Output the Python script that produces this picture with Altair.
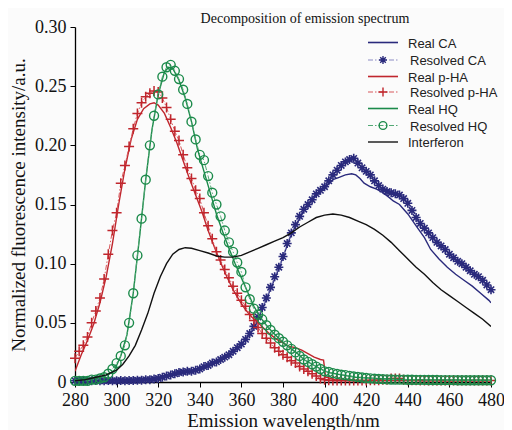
import altair as alt
import pandas as pd

# ---------------- data ----------------
wl_res = list(range(280, 482, 2))

res_pha = [0.020, 0.026, 0.031, 0.038, 0.050, 0.060, 0.071, 0.087, 0.108, 0.128,
           0.143, 0.168, 0.183, 0.199, 0.214, 0.227, 0.236, 0.241, 0.244, 0.246,
           0.245, 0.240, 0.232, 0.222, 0.212, 0.204, 0.192, 0.181, 0.172, 0.162,
           0.155, 0.143, 0.132, 0.121, 0.110, 0.103, 0.095, 0.088, 0.081, 0.075,
           0.069, 0.064, 0.057, 0.052, 0.046, 0.041, 0.037, 0.033, 0.029, 0.026,
           0.023, 0.021, 0.018, 0.016, 0.013, 0.011, 0.009, 0.007, 0.005, 0.003,
           0.002, 0.0015, 0.0012, 0.0012, 0.0012, 0.0012, 0.0012, 0.0012, 0.0012, 0.0012,
           0.0012, 0.0015, 0.0015, 0.0015, 0.002, 0.002, 0.003, 0.003, 0.003, 0.002,
           0.0015, 0.0015, 0.0015, 0.0012, 0.0012, 0.0012, 0.0012, 0.0012, 0.0012, 0.0012,
           0.0012, 0.0012, 0.0012, 0.0012, 0.0012, 0.0012, 0.0012, 0.0012, 0.0012, 0.0012,
           0.0012]

res_hq = [0.001, 0.001, 0.001, 0.001, 0.002, 0.002, 0.003, 0.004, 0.007, 0.011,
          0.016, 0.022, 0.031, 0.050, 0.075, 0.107, 0.138, 0.171, 0.200, 0.225,
          0.243, 0.258, 0.266, 0.268, 0.263, 0.256, 0.247, 0.235, 0.220, 0.205,
          0.192, 0.1875, 0.174, 0.160, 0.150, 0.140, 0.128, 0.118, 0.110, 0.101,
          0.093, 0.080, 0.070, 0.062, 0.057, 0.053, 0.048, 0.044, 0.040, 0.037,
          0.034, 0.031, 0.028, 0.025, 0.022, 0.019, 0.017, 0.015, 0.013, 0.011,
          0.009, 0.0085, 0.0075, 0.0068, 0.0062, 0.0058, 0.0052, 0.0047, 0.0042, 0.0038,
          0.0034, 0.0031, 0.0028, 0.0026, 0.0024, 0.0022, 0.0021, 0.002, 0.002, 0.002,
          0.0019, 0.0019, 0.0018, 0.0018, 0.0018, 0.0017, 0.0017, 0.0017, 0.0016, 0.0016,
          0.0016, 0.0016, 0.0015, 0.0015, 0.0015, 0.0015, 0.0015, 0.0015, 0.0015, 0.0015,
          0.0015]

res_ca = [0.001, 0.001, 0.0012, 0.001, 0.001, 0.0012, 0.001, 0.001, 0.0012, 0.001,
          0.001, 0.0012, 0.001, 0.0012, 0.0012, 0.0015, 0.0015, 0.002, 0.002, 0.0025,
          0.003, 0.004, 0.005, 0.006, 0.007, 0.008, 0.0085, 0.009, 0.009, 0.010,
          0.011, 0.013, 0.014, 0.016, 0.017, 0.019, 0.021, 0.023, 0.026, 0.029,
          0.032, 0.036, 0.041, 0.047, 0.055, 0.063, 0.071, 0.080, 0.089, 0.097,
          0.106, 0.117, 0.126, 0.133, 0.140, 0.146, 0.150, 0.154, 0.159, 0.162,
          0.165, 0.170, 0.175, 0.179, 0.183, 0.186, 0.188, 0.189, 0.185, 0.181,
          0.178, 0.175, 0.170, 0.166, 0.163, 0.161, 0.160, 0.159, 0.158, 0.155,
          0.151, 0.145, 0.139, 0.134, 0.130, 0.126, 0.122, 0.118, 0.115, 0.112,
          0.108, 0.105, 0.102, 0.100, 0.097, 0.094, 0.091, 0.089, 0.086, 0.082,
          0.078]

wl_real_pha = [280, 283, 286, 289, 292, 295, 298, 301, 304, 307, 310, 313, 316, 318, 320,
               323, 326, 329, 332, 335, 338, 341, 344, 347, 350, 353, 356, 359, 362, 365,
               368, 371, 374, 377, 380, 383, 386, 389, 392, 395, 398, 399.5, 400.5, 405,
               420, 440, 460, 480]
real_pha = [0.009, 0.023, 0.035, 0.049, 0.067, 0.089, 0.117, 0.150, 0.180, 0.205, 0.222,
            0.231, 0.235, 0.236, 0.234, 0.227, 0.215, 0.202, 0.187, 0.172, 0.158, 0.144,
            0.128, 0.114, 0.101, 0.089, 0.078, 0.069, 0.061, 0.055, 0.050, 0.045, 0.040,
            0.036, 0.033, 0.030, 0.029, 0.027, 0.024, 0.021, 0.019, 0.0185, 0.004, 0.002,
            0.001, 0.0015, 0.001, 0.001]

wl_real_hq = [280, 286, 292, 296, 299, 302, 305, 308, 311, 314, 317, 320, 323, 325, 327,
              330, 333, 336, 339, 342, 345, 348, 351, 354, 357, 360, 363, 366, 369, 372,
              375, 378, 381, 384, 387, 390, 394, 398, 402, 408, 415, 425, 440, 480]
real_hq = [0.002, 0.003, 0.004, 0.006, 0.010, 0.022, 0.040, 0.075, 0.122, 0.171, 0.213,
           0.243, 0.262, 0.266, 0.265, 0.255, 0.240, 0.220, 0.196, 0.178, 0.160, 0.142,
           0.127, 0.113, 0.100, 0.088, 0.076, 0.064, 0.055, 0.048, 0.042, 0.037, 0.032,
           0.028, 0.024, 0.019, 0.015, 0.011, 0.008, 0.006, 0.004, 0.003, 0.002, 0.0015]

wl_real_ca = [280, 300, 318, 324, 330, 340, 350, 360, 366, 372, 378, 384, 390, 396, 400,
              404, 407, 410, 413, 415, 417, 419, 422, 425, 428, 431, 433, 436, 440, 444,
              448, 451, 455, 459, 463, 467, 471, 475, 479, 480]
real_ca = [0.001, 0.001, 0.002, 0.004, 0.007, 0.010, 0.018, 0.031, 0.046, 0.070, 0.096,
           0.125, 0.145, 0.158, 0.164, 0.171, 0.173, 0.175, 0.176, 0.175, 0.172, 0.168,
           0.165, 0.163, 0.160, 0.156, 0.153, 0.150, 0.142, 0.132, 0.122, 0.112, 0.104,
           0.097, 0.091, 0.086, 0.081, 0.075, 0.069, 0.067]

wl_interf = [280, 285, 290, 295, 300, 303, 306, 309, 312, 315, 318, 321, 324, 327, 330,
             333, 336, 340, 344, 348, 352, 356, 360, 364, 368, 372, 376, 380, 384, 388,
             392, 396, 400, 404, 408, 412, 416, 420, 424, 428, 432, 436, 440, 444, 448,
             452, 456, 460, 464, 468, 472, 476, 480]
interf = [0.001, 0.002, 0.004, 0.006, 0.010, 0.015, 0.022, 0.031, 0.044, 0.058, 0.075,
          0.089, 0.100, 0.108, 0.112, 0.1135, 0.113, 0.111, 0.109, 0.1065, 0.1055, 0.1055,
          0.107, 0.110, 0.113, 0.116, 0.119, 0.122, 0.126, 0.131, 0.135, 0.139, 0.141,
          0.142, 0.141, 0.139, 0.136, 0.133, 0.129, 0.124, 0.118, 0.111, 0.104, 0.097,
          0.091, 0.084, 0.078, 0.073, 0.068, 0.063, 0.058, 0.053, 0.047]

legend_labels = ["Real CA", "Resolved CA", "Real p-HA", "Resolved p-HA",
                 "Real HQ", "Resolved HQ", "Interferon"]

# ---------------- styles ----------------
NAVY = "#2a2a7c"
NAVY_L = "#8c8cc4"
RED = "#c0262d"
RED_L = "#d8585c"
GREEN = "#1b8a4a"
GREEN_L = "#52a874"
BLACK = "#111111"
STAR = "M-1,0L1,0M0,-1L0,1M-0.7,-0.7L0.7,0.7M-0.7,0.7L0.7,-0.7"
PLUS = "M-1,0L1,0M0,-1L0,1"
DASHDOT = [5, 2, 1.5, 2]
SERIF = "Liberation Serif"

x_enc = alt.X("wl:Q", scale=alt.Scale(domain=[280, 480], nice=False, zero=False),
              axis=alt.Axis(values=list(range(280, 481, 20)), title="Emission wavelength/nm",
                            grid=False, tickSize=5, labelPadding=4, titlePadding=2,
                            labelFlush=False, labelOverlap=False,
                            domainColor="black", tickColor="black", domainWidth=1.3,
                            labelFont=SERIF, labelFontSize=18, labelColor="#111",
                            titleFont=SERIF, titleFontSize=19, titleFontWeight="normal",
                            titleColor="#111"))
y_enc = alt.Y("val:Q", scale=alt.Scale(domain=[0, 0.30], nice=False),
              axis=alt.Axis(values=[0, 0.05, 0.10, 0.15, 0.20, 0.25, 0.30],
                            labelExpr="datum.value == 0 ? '0' : format(datum.value, '.2f')",
                            title="Normalized fluorescence intensity/a.u.",
                            grid=False, tickSize=5, labelPadding=4, titlePadding=6,
                            labelFlush=False, labelOverlap=False,
                            domainColor="black", tickColor="black", domainWidth=1.3,
                            labelFont=SERIF, labelFontSize=18, labelColor="#111",
                            titleFont=SERIF, titleFontSize=19, titleFontWeight="normal",
                            titleColor="#111"))


def df(x, y):
    return pd.DataFrame({"wl": x, "val": y})


def line(x, y, color, width=1.4, dash=None):
    kw = dict(color=color, strokeWidth=width, clip=True)
    if dash is not None:
        kw["strokeDash"] = dash
    return alt.Chart(df(x, y)).mark_line(**kw).encode(x=x_enc, y=y_enc)


def points(x, y, color, shape, size, width=1.4):
    return alt.Chart(df(x, y)).mark_point(shape=shape, size=size, filled=False,
                                          color=color, strokeWidth=width,
                                          opacity=1).encode(x=x_enc, y=y_enc)


layers = [
    line(wl_real_ca, real_ca, NAVY),
    line(wl_res, res_ca, NAVY_L, 1, DASHDOT),
    points(wl_res, res_ca, NAVY, STAR, 81, 1.6),
    line(wl_real_pha, real_pha, RED),
    line(wl_res, res_pha, RED_L, 1, DASHDOT),
    points(wl_res, res_pha, RED, PLUS, 100, 1.5),
    line(wl_real_hq, real_hq, GREEN),
    line(wl_res, res_hq, GREEN_L, 1, DASHDOT),
    points(wl_res, res_hq, GREEN, "circle", 80, 1.4),
    line(wl_interf, interf, BLACK, 1.4),
]

# ---------------- legend (manual) ----------------
dummy = pd.DataFrame({"d": [0]})
legend_rows = [15.5, 33, 49.5, 65, 81.5, 98.5, 115]
legend_style = [
    (NAVY, None, None, None, None),
    (NAVY_L, DASHDOT, NAVY, STAR, 64),
    (RED, None, None, None, None),
    (RED_L, DASHDOT, RED, PLUS, 81),
    (GREEN, None, None, None, None),
    (GREEN_L, DASHDOT, GREEN, "circle", 60),
    ("#333333", None, None, None, None),
]
for i, label in enumerate(legend_labels):
    ly = legend_rows[i]
    lcol, ldash, mcol, mshape, msize = legend_style[i]
    rkw = dict(color=lcol, strokeWidth=1.6 if ldash is None else 1.1)
    if ldash is not None:
        rkw["strokeDash"] = ldash
    layers.append(alt.Chart(dummy).mark_rule(**rkw).encode(
        x=alt.value(293), x2=alt.value(323), y=alt.value(ly)))
    if mshape is not None:
        layers.append(alt.Chart(dummy).mark_point(
            shape=mshape, size=msize, filled=False, color=mcol, strokeWidth=1.4,
            opacity=1).encode(x=alt.value(308), y=alt.value(ly)))
    layers.append(alt.Chart(dummy).mark_text(
        align="left", baseline="middle", font="Liberation Sans", fontSize=13,
        color="#222222").encode(
        x=alt.value(333 if mshape is None else 335), y=alt.value(ly + 1),
        text=alt.value(label)))

# title
layers.append(alt.Chart(dummy).mark_text(
    align="center", baseline="alphabetic", font=SERIF, fontSize=14,
    color="#111111").encode(x=alt.value(230), y=alt.value(-4),
                            text=alt.value("Decomposition of emission spectrum")))

chart = alt.layer(*layers).properties(
    width=416, height=355,
    autosize=alt.AutoSizeParams(type="none"),
    padding={"left": 67, "top": 19, "right": 13, "bottom": 48},
    background="#fbfbfb",
).configure_view(stroke=None)

chart.save("out.html", embed_options={"renderer": "svg", "actions": False})
